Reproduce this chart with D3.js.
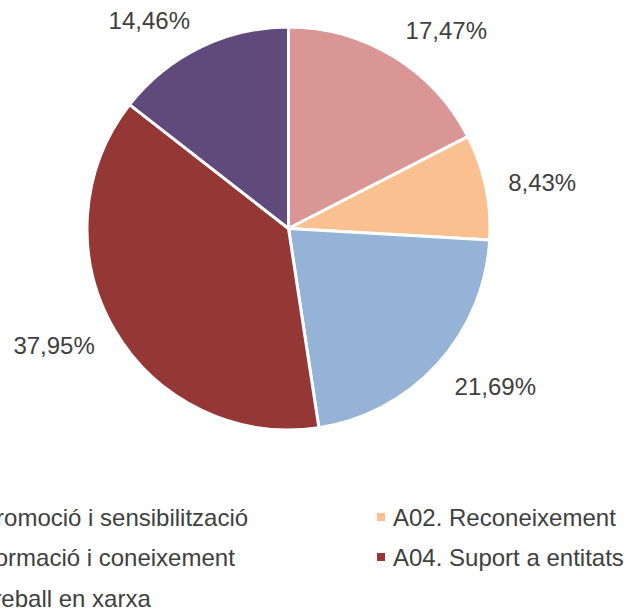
<!DOCTYPE html>
<html>
<head>
<meta charset="utf-8">
<script src="https://cdn.jsdelivr.net/npm/d3@7"></script>
<style>
  html, body { margin: 0; padding: 0; background: #fff; overflow: hidden; }
  svg { display: block; font-family: Arial, "Liberation Sans", sans-serif; }
</style>
</head>
<body>
<div id="chart"></div>
<script>
// data
const categories = [
  'A01. Promoció i sensibilització',
  'A02. Reconeixement',
  'A03. Formació i coneixement',
  'A04. Suport a entitats',
  'A05. Treball en xarxa'
];
const values = [17.47, 8.43, 21.69, 37.95, 14.46];
const colors = ['#D99694', '#FAC090', '#95B3D7', '#953735', '#604A7B'];

const width = 627, height = 612;
const cx = 288.5, cy = 228.5, radius = 201.5;

const svg = d3.select('#chart')
  .append('svg')
  .attr('width', width)
  .attr('height', height);

const pie = d3.pie().sort(null).value(d => d.value);
const arc = d3.arc().innerRadius(0).outerRadius(radius);

const rows = categories.map((c, i) => ({name: c, value: values[i], color: colors[i]}));
const arcs = pie(rows);

const g = svg.append('g')
  .attr('transform', 'translate(' + cx + ',' + cy + ')');

g.selectAll('path')
  .data(arcs)
  .join('path')
  .attr('d', arc)
  .attr('fill', d => d.data.color)
  .attr('stroke', '#fff')
  .attr('stroke-width', 3)
  .attr('stroke-linejoin', 'round');

// data labels, outside end (box corner sits just outside the rim)
const fmt = v => v.toFixed(2).replace('.', ',') + '%';
const gap = 17, boxH = 24;

g.selectAll('text.lbl')
  .data(arcs)
  .join('text')
  .attr('class', 'lbl')
  .attr('font-size', 24)
  .attr('fill', '#404040')
  .attr('dominant-baseline', 'central')
  .text(d => fmt(d.data.value))
  .each(function(d) {
    const a = (d.startAngle + d.endAngle) / 2;
    const dx = Math.sin(a), dy = -Math.cos(a);
    const px = (radius + gap) * dx, py = (radius + gap) * dy;
    const w = this.getComputedTextLength();
    const ox = (dx >= 0 ? w / 2 : -w / 2) + 6 * dx;
    const oy = (boxH / 2) * Math.sign(dy) * Math.min(1, Math.abs(dy) / Math.abs(dx));
    d3.select(this)
      .attr('text-anchor', 'middle')
      .attr('x', px + ox)
      .attr('y', py + oy + (Math.abs(dy) < 0.3 ? 2 : 0));
  });

// legend, two columns, left column runs off the page like the original
const legX = [-92, 377], legY = [517, 557, 598];
const leg = svg.append('g');
rows.forEach((r, i) => {
  const x = legX[i % 2], y = legY[Math.floor(i / 2)];
  leg.append('rect')
    .attr('x', x).attr('y', y - 4)
    .attr('width', 8).attr('height', 8)
    .attr('fill', r.color);
  leg.append('text')
    .attr('x', x + 16).attr('y', y)
    .attr('dominant-baseline', 'central')
    .attr('font-size', 24)
    .attr('fill', '#404040')
    .style('font-kerning', 'normal')
    .text(r.name);
});
</script>
</body>
</html>
